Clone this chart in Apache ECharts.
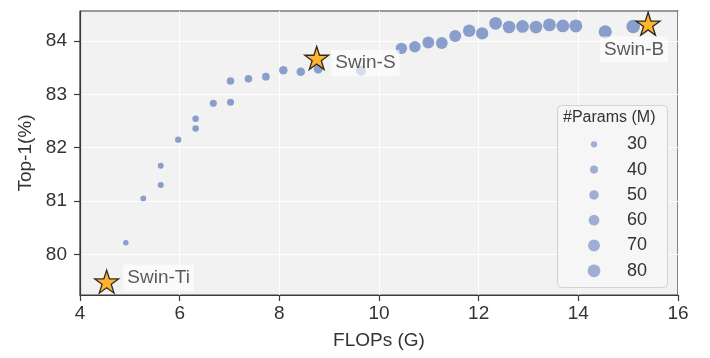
<!DOCTYPE html>
<html><head><meta charset="utf-8">
<script src="https://cdn.jsdelivr.net/npm/echarts@6/dist/echarts.min.js"></script>
<style>html,body{margin:0;padding:0;background:#fff}#c{width:710px;height:358px}</style>
</head><body><div id="c"></div>
<script>
// Sampled models: FLOPs (G), Top-1 (%), #Params (M)
const flops  = [4.92, 5.27, 5.62, 5.62, 5.97, 6.32, 6.32, 6.675, 7.02, 7.02, 7.38, 7.73, 8.08, 8.43, 8.78, 9.64,
                10.45, 10.72, 10.99, 11.26, 11.53, 11.81, 12.07, 12.34, 12.61, 12.88, 13.15, 13.42, 13.69, 13.95, 14.54, 15.10];
const top1   = [80.22, 81.05, 81.30, 81.66, 82.15, 82.36, 82.54, 82.83, 82.85, 83.25, 83.29, 83.33, 83.45, 83.42, 83.47, 83.44,
                83.86, 83.89, 83.97, 83.96, 84.09, 84.19, 84.14, 84.33, 84.26, 84.27, 84.26, 84.30, 84.28, 84.28, 84.17, 84.27];
const params = [26, 27, 29, 28, 30, 31, 31, 34, 34, 37, 37, 38, 43, 43, 46, 55,
                66, 67, 70, 70, 72, 76, 74, 79, 78, 79, 79, 80, 80, 81, 84, 88];
// Reference models
const swinNames = ['Swin-Ti', 'Swin-S', 'Swin-B'];
const swinFlops = [4.535, 8.75, 15.40];
const swinTop1  = [79.49, 83.68, 84.32];
// Legend / ticks
const legendParams = [30, 40, 50, 60, 70, 80];
const xTicks = [4, 6, 8, 10, 12, 14, 16];
const yTicks = [80, 81, 82, 83, 84];

const FONT = 'Liberation Sans, Arial, sans-serif';
const TXT = '#333333';
const DOT = '#8a9ecb';
const FRAME = '#3a3a3a';
const sizeOf = p => Math.sqrt(40 + 2.5 * (p - 30));
const STAR = 'path://M50,0 L61.2,34.5 L97.6,34.5 L68.2,55.9 L79.4,90.5 L50,69.1 L20.6,90.5 L31.8,55.9 L2.4,34.5 L38.8,34.5 Z';

const labelCfg = [
  {position: 'right', distance: 4, offset: [0, -4]},
  {position: 'right', distance: 2, offset: [0, 5]},
  {position: 'bottom', distance: 0.5, offset: [-14, 0]}
];

const chart = echarts.init(document.getElementById('c'), null, {renderer: 'canvas'});
chart.setOption({
  animation: false,
  textStyle: {fontFamily: FONT},
  title: {
    text: '#Params (M)', left: 563, top: 110, padding: 0, z: 10,
    textStyle: {fontFamily: FONT, fontSize: 16, fontWeight: 'normal', color: TXT}
  },
  graphic: {elements: [{
    type: 'rect', z: 5, left: 557, top: 105,
    shape: {width: 110, height: 182, r: 4},
    style: {fill: '#f6f6f6', stroke: '#d2d2d2', lineWidth: 1}
  }]},
  grid: [
    {left: 80, top: 11, right: 32, bottom: 63, show: true, backgroundColor: '#f2f2f2',
     borderColor: FRAME, borderWidth: 1.2},
    {left: 584, top: 131.65, width: 20, height: 151.8, show: false}
  ],
  xAxis: [
    {type: 'value', gridIndex: 0, min: 4, max: 16, interval: 2,
     name: 'FLOPs (G)', nameLocation: 'middle', nameGap: 36,
     nameTextStyle: {fontFamily: FONT, fontSize: 19, color: TXT},
     axisLine: {show: true, onZero: false, lineStyle: {color: FRAME, width: 1.2}},
     axisTick: {show: true, length: 6, lineStyle: {color: FRAME, width: 1.2}},
     axisLabel: {fontFamily: FONT, fontSize: 19, color: TXT, margin: 9},
     splitLine: {show: true, lineStyle: {color: '#ffffff', width: 1}}},
    {type: 'value', gridIndex: 1, min: 0, max: 1, show: false}
  ],
  yAxis: [
    {type: 'value', gridIndex: 0, min: 79.24, max: 84.56,
     name: 'Top-1(%)', nameLocation: 'middle', nameGap: 36,
     nameTextStyle: {fontFamily: FONT, fontSize: 19, color: TXT},
     axisLine: {show: true, onZero: false, lineStyle: {color: FRAME, width: 1.2}},
     axisTick: {show: true, length: 6, lineStyle: {color: FRAME, width: 1.2},
                customValues: yTicks},
     axisLabel: {fontFamily: FONT, fontSize: 19, color: TXT, margin: 13,
                 customValues: yTicks},
     splitLine: {show: true, lineStyle: {color: '#ffffff', width: 1}}},
    {type: 'category', gridIndex: 1, inverse: true, position: 'right', z: 10,
     data: legendParams.map(String),
     axisLine: {show: false}, axisTick: {show: false}, splitLine: {show: false},
     axisLabel: {fontFamily: FONT, fontSize: 18, color: TXT, margin: 23}}
  ],
  series: [
    {type: 'scatter', xAxisIndex: 0, yAxisIndex: 0, z: 2,
     data: flops.map((f, i) => [f, top1[i], params[i]]),
     symbolSize: v => sizeOf(v[2]),
     itemStyle: {color: DOT, opacity: 1}},
    {type: 'scatter', xAxisIndex: 0, yAxisIndex: 0, z: 4,
     symbol: STAR, symbolSize: [24, 23],
     itemStyle: {color: '#ffa500', borderColor: '#000000', borderWidth: 1.3},
     data: swinNames.map((n, i) => ({
       name: n, value: [swinFlops[i], swinTop1[i]],
       label: Object.assign({show: true, formatter: n, fontFamily: FONT, fontSize: 19, color: TXT,
         backgroundColor: 'rgba(255,255,255,0.8)', padding: [4, 4, 3, 4]}, labelCfg[i])
     }))},
    {type: 'scatter', xAxisIndex: 1, yAxisIndex: 1, z: 10,
     data: legendParams.map((p, i) => [0.5, i, p]),
     symbolSize: v => sizeOf(v[2]),
     itemStyle: {color: DOT}}
  ]
});
</script>
</body></html>
